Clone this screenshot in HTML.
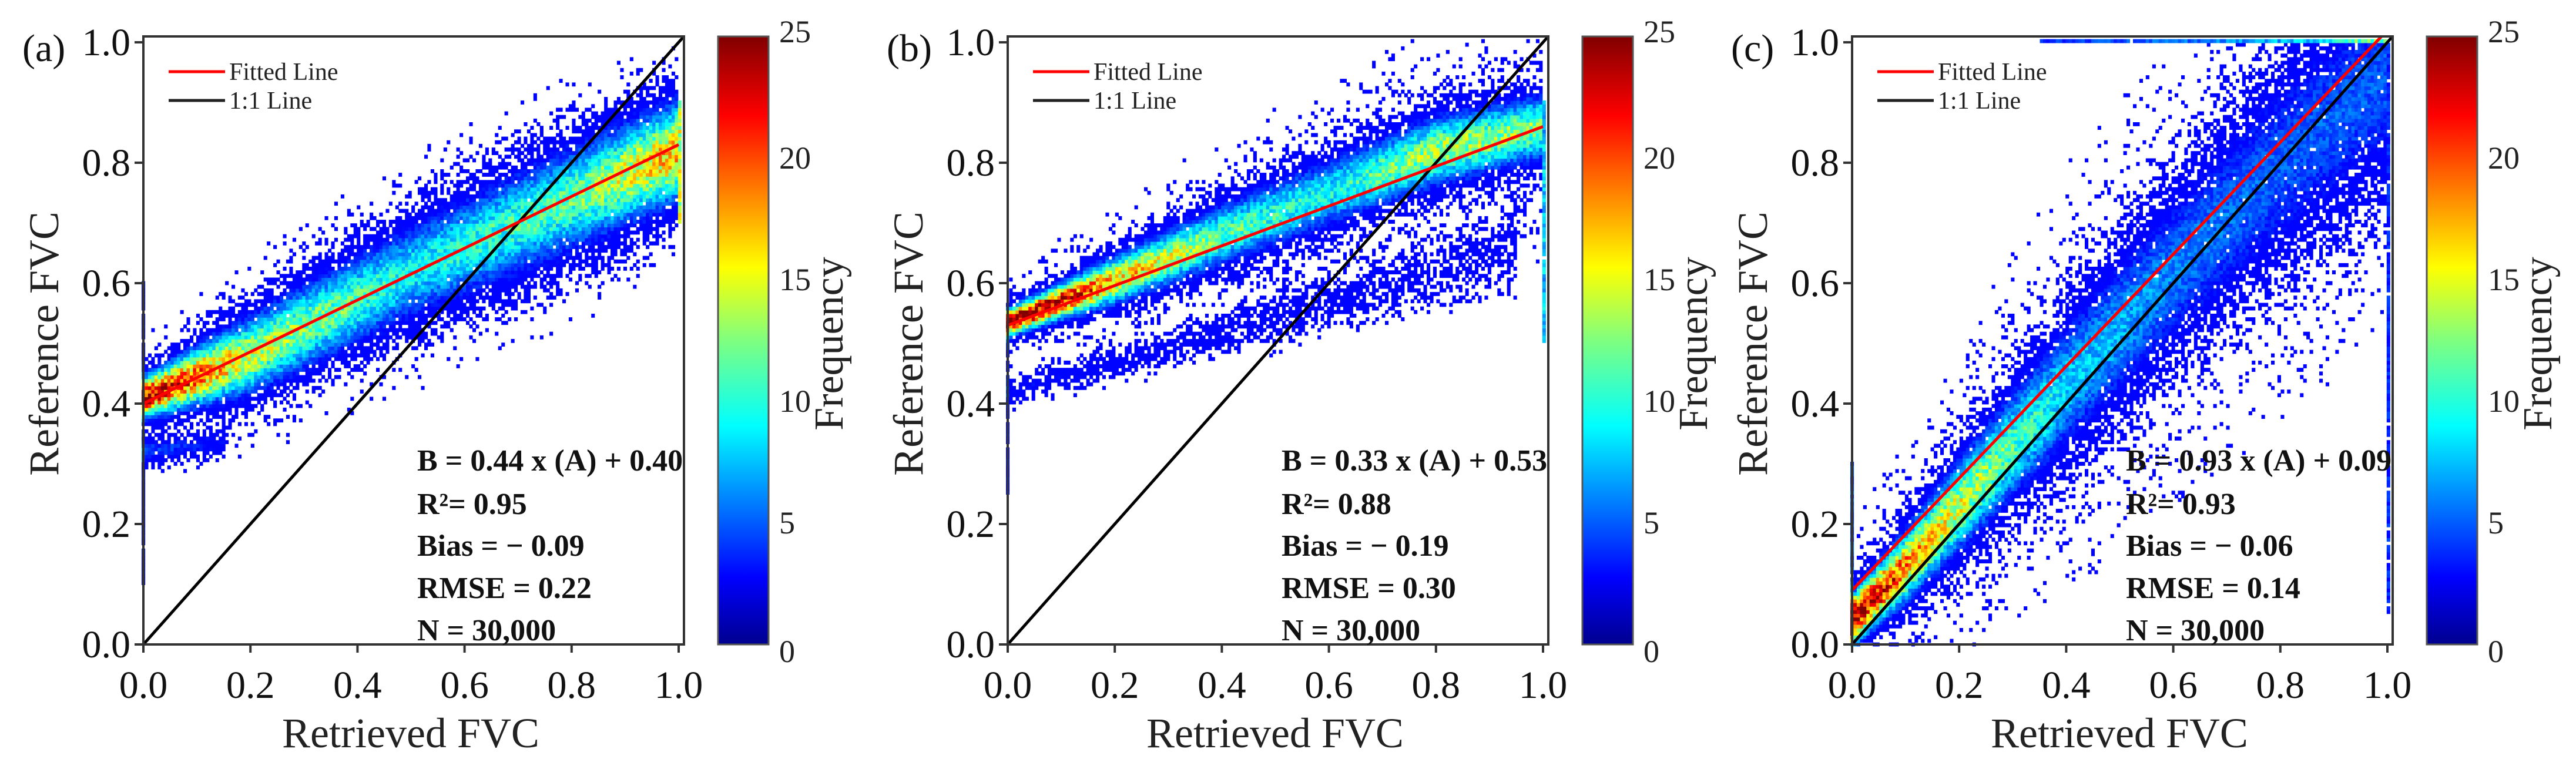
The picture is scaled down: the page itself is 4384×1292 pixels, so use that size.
<!DOCTYPE html>
<html><head><meta charset="utf-8">
<style>
html,body{margin:0;padding:0;background:#fff;}
svg{display:block;font-family:"Liberation Serif",serif;}
</style></head>
<body>
<svg id="fig" width="4384" height="1292" viewBox="0 0 4384 1292" xmlns="http://www.w3.org/2000/svg">
<defs>
<linearGradient id="jet" x1="0" y1="1" x2="0" y2="0">
<stop offset="0" stop-color="#00008f"/><stop offset="0.11" stop-color="#0000ff"/>
<stop offset="0.36" stop-color="#00ffff"/><stop offset="0.5" stop-color="#7fff7f"/>
<stop offset="0.62" stop-color="#ffff00"/><stop offset="0.87" stop-color="#ff0000"/>
<stop offset="1" stop-color="#800000"/>
</linearGradient>
</defs>
</svg>
<script>
// ---- data ----
const tickValues = [0, 0.2, 0.4, 0.6, 0.8, 1.0];
const tickLabels = ["0.0","0.2","0.4","0.6","0.8","1.0"];
const cbTicks = [0,5,10,15,20,25];
const panelLabels = ["(a)","(b)","(c)"];
const fitIntercepts = [0.40, 0.53, 0.09];
const fitEnds = [0.83, 0.86, 1.02];
const statsA = ["B = 0.44 x (A) + 0.40","R²= 0.95","Bias = − 0.09","RMSE = 0.22","N = 30,000"];
const statsB = ["B = 0.33 x (A) + 0.53","R²= 0.88","Bias = − 0.19","RMSE = 0.30","N = 30,000"];
const statsC = ["B = 0.93 x (A) + 0.09","R²= 0.93","Bias = − 0.06","RMSE = 0.14","N = 30,000"];
// density bands: knots x, centre y, spread, peak frequency
const bandAx = [0,0.2,0.5,0.8,1.0], bandAy=[0.41,0.48,0.62,0.74,0.82], bandAw=[0.02,0.04,0.05,0.055,0.05], bandAp=[24,14,9,11,17];
const haloAw=[0.05,0.08,0.1,0.1,0.09], haloAp=[0.5,0.45,0.4,0.45,0.5];
const subAx=[0,0.15], subAy=[0.32,0.335], subAw=[0.012,0.015], subAp=[5,3];
const bandBx=[0,0.1,0.2,0.4,0.6,0.8,1.0], bandBy=[0.535,0.57,0.605,0.68,0.75,0.82,0.86], bandBw=[0.014,0.018,0.024,0.032,0.036,0.036,0.033], bandBp=[26,22,17,11,9,13,12];
const haloBw=[0.04,0.05,0.06,0.08,0.09,0.1,0.1], haloBp=[0.45,0.45,0.45,0.45,0.45,0.5,0.6];
const subBx=[0,0.3,0.6,0.8,0.95], subBy=[0.42,0.49,0.57,0.62,0.66], subBw=[0.012,0.016,0.025,0.03,0.035], subBp=[3,2.2,2,1.6,1.4];
const bandCx=[0,0.1,0.2,0.4,0.6,0.8,1.0], bandCy=[0.04,0.13,0.23,0.43,0.62,0.8,0.95], bandCw=[0.025,0.035,0.045,0.065,0.08,0.1,0.1], bandCp=[26,18,14,8,6,5,5];
const haloCw=[0.07,0.1,0.13,0.18,0.2,0.22,0.22], haloCp=[0.6,0.5,0.45,0.4,0.35,0.35,0.35];
const colX=[[0,0.1,0.6,3],[0,0.25,0.55,3],[0,0,0.3,5]]; // per panel [x, y0, y1, peak] left column
const colR=[[1,0.7,0.9,14],[1,0.5,0.9,8],[1,0.05,1.0,4]];
const topRow=[null,null,[0.35,1.0,8]]; // [x0,x1,peak] at y=1
const panelLefts=[244,1715,3152];

// ---- helpers ----
const NS="http://www.w3.org/2000/svg";
const svg=document.getElementById('fig');
function mk(tag,attrs,parent){const e=document.createElementNS(NS,tag);for(const k in attrs)e.setAttribute(k,attrs[k]);(parent||svg).appendChild(e);return e;}
function interp(xs,vs,x){if(x<xs[0]||x>xs[xs.length-1])return null;for(let i=0;i<xs.length-1;i++){if(x<=xs[i+1]){const t=(x-xs[i])/(xs[i+1]-xs[i]||1);return vs[i]+t*(vs[i+1]-vs[i]);}}return vs[vs.length-1];}
function jet(t){t=Math.max(0,Math.min(1,t));const r=Math.max(0,Math.min(1,1.5-Math.abs(4*t-3))),g=Math.max(0,Math.min(1,1.5-Math.abs(4*t-2))),b=Math.max(0,Math.min(1,1.5-Math.abs(4*t-1)));return `rgb(${Math.round(r*255)},${Math.round(g*255)},${Math.round(b*255)})`;}
function hash(i,j,s){let h=(i*374761393+j*668265263+s*982451653)|0;h=(h^(h>>>13))*1274126177|0;h=h^(h>>>16);return ((h>>>0)%100000)/100000;}
function bandVal(xs,ys,ws,ps,x,y){const c=interp(xs,ys,x);if(c===null)return 0;const w=interp(xs,ws,x),p=interp(xs,ps,x);const d=(y-c)/w;return p*Math.exp(-0.5*d*d);}

const bands=[
 [[bandAx,bandAy,bandAw,bandAp],[bandAx,bandAy,haloAw,haloAp],[subAx,subAy,subAw,subAp]],
 [[bandBx,bandBy,bandBw,bandBp],[bandBx,bandBy,haloBw,haloBp],[subBx,subBy,subBw,subBp]],
 [[bandCx,bandCy,bandCw,bandCp],[bandCx,bandCy,haloCw,haloCp]]
];
const stats=[statsA,statsB,statsC];
const BIN=0.006, XS=911, YS=1025, BOT=1097, TOP=62, W=920;

panelLefts.forEach((L,pi)=>{
 const X=v=>L+v*XS, Y=v=>BOT-v*YS;
 const g=mk('g',{});
 
 
 const cells=mk('g',{},g);
 
 
 const n=Math.round(1/BIN);
 const cw=BIN*XS+0.6, ch=BIN*YS+0.6;
 for(let i=0;i<=n;i++){const x=i*BIN;
  for(let j=0;j<=n;j++){const y=j*BIN;
   let c=0;bands[pi].forEach(b=>{c+=bandVal(b[0],b[1],b[2],b[3],x,y);});
   const cl=colX[pi]; if(i===0&&y>=cl[1]&&y<=cl[2])c+=cl[3];
   const cr=colR[pi]; if(i===n&&y>=cr[1]&&y<=cr[2])c+=cr[3];
   const tr=topRow[pi]; if(tr&&j===n&&x>=tr[0]&&x<=tr[1])c+=tr[2]*(0.5+0.5*(x-tr[0])/(tr[1]-tr[0]));
   if(c<0.05)continue;
   const h1=hash(i,j,pi+1),h2=hash(j,i,pi+7);
   const p=1-Math.exp(-c/1.5);
   if(h1>p)continue;
   const v=Math.max(3.2,c*(0.75+0.5*h2));
   const r=mk('rect',{x:(X(x)-cw/2).toFixed(1),y:(Y(y)-ch/2).toFixed(1),width:cw.toFixed(1),height:ch.toFixed(1),fill:jet(Math.min(v,25)/25)},cells);
   
   
  }}
 const cp=mk('clipPath',{id:'clip'+pi},g);mk('rect',{x:L,y:TOP,width:W,height:BOT-TOP},cp);
 const one=mk('line',{x1:X(0),y1:Y(0),x2:X(1.01),y2:Y(1.01),stroke:'#000','stroke-width':5,'clip-path':`url(#clip${pi})`},g);
 
 
 const fit=mk('line',{x1:X(0),y1:Y(fitIntercepts[pi]),x2:X(1),y2:Y(fitEnds[pi]),stroke:'#ff0000','stroke-width':5,'clip-path':`url(#clip${pi})`},g);
 
 
 const box=mk('rect',{x:L,y:TOP,width:W,height:BOT-TOP,fill:'none',stroke:'#333','stroke-width':4},g);
 
 
 tickValues.forEach((t,k)=>{
  mk('line',{x1:L-15,y1:Y(t),x2:L,y2:Y(t),stroke:'#333','stroke-width':4},g);
  const yl=mk('text',{x:L-22,y:Y(t)+22,'font-size':66,'text-anchor':'end',fill:'#111'},g);yl.textContent=tickLabels[k];
  
  
  mk('line',{x1:X(t),y1:BOT,x2:X(t),y2:BOT+14,stroke:'#333','stroke-width':4},g);
  const xl=mk('text',{x:X(t),y:1188,'font-size':66,'text-anchor':'middle',fill:'#111'},g);xl.textContent=tickLabels[k];
  
  
 });
 const xt=mk('text',{x:L+455,y:1272,'font-size':72,'text-anchor':'middle',fill:'#222'},g);xt.textContent='Retrieved FVC';
 
 
 const yt=mk('text',{x:0,y:0,'font-size':72,'text-anchor':'middle',fill:'#222',transform:`translate(${L-145},585) rotate(-90)`},g);yt.textContent='Reference FVC';
 
 
 const pl=mk('text',{x:L-206,y:104,'font-size':66,fill:'#111'},g);pl.textContent=panelLabels[pi];
 
 
 const lg=mk('g',{},g);
 
 
 mk('line',{x1:L+43,y1:122,x2:L+139,y2:122,stroke:'#ff0000','stroke-width':5},lg);
 const l1=mk('text',{x:L+146,y:136,'font-size':42,fill:'#222'},lg);l1.textContent='Fitted Line';
 
 
 mk('line',{x1:L+43,y1:171,x2:L+139,y2:171,stroke:'#222','stroke-width':5},lg);
 const l2=mk('text',{x:L+146,y:185,'font-size':42,fill:'#222'},lg);l2.textContent='1:1 Line';
 
 
 const baselines=[801,875,946,1018,1090];
 stats[pi].forEach((s,k)=>{const t=mk('text',{x:L+466,y:baselines[k],'font-size':52,'font-weight':'bold',fill:'#111'},g);t.textContent=s;
  
  });
 const cbx=L+978;
 const cb=mk('rect',{x:cbx,y:TOP,width:86,height:BOT-TOP,fill:'url(#jet)',stroke:'#555','stroke-width':3},g);
 
 
 cbTicks.forEach(v=>{const yy=BOT-v/25*(BOT-TOP);
  const t=mk('text',{x:cbx+104,y:yy+(v===25?10:v===0?30:18),'font-size':54,fill:'#222'},g);t.textContent=v;
  
  });
 const fq=mk('text',{x:0,y:0,'font-size':70,'text-anchor':'middle',fill:'#222',transform:`translate(${L+1190},585) rotate(-90)`},g);fq.textContent='Frequency';
 
 
});
</script>
</body></html>
